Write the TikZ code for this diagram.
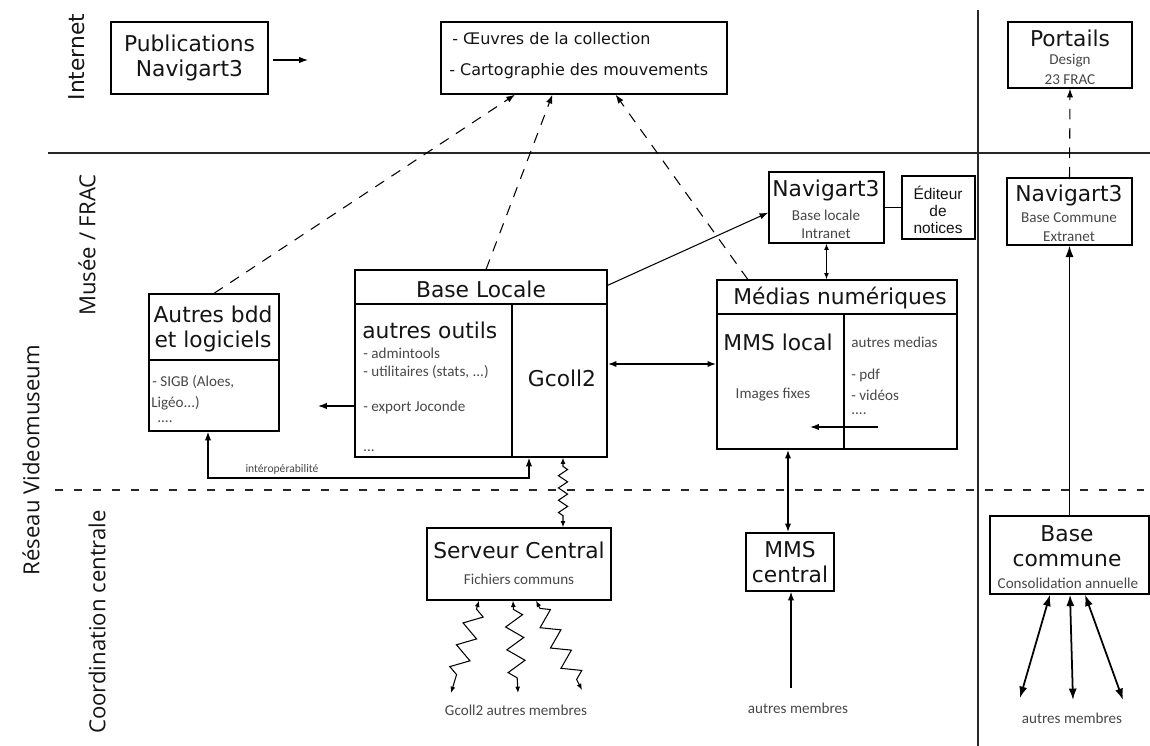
\documentclass[tikz,border=0pt]{standalone}
\usepackage{fontspec}
\setmainfont{DejaVu Sans}
\newfontfamily\smf{Carlito}
\newfontfamily\arf{Liberation Sans}
\newfontfamily\osf{Open Sans}
\usetikzlibrary{arrows.meta,fit,calc,decorations.pathmorphing}
\begin{document}
\begin{tikzpicture}[x=0.02cm,y=-0.02cm,
  box/.style={draw, line width=0.75pt, inner sep=0pt, fit={#1}},
  ttl/.style={font=\fontsize{12.4}{14.2}\selectfont, text=black!92, inner sep=0pt},
  mid/.style={font=\fontsize{9.1}{11}\selectfont, text=black!92, inner sep=0pt},
  sub/.style={font=\smf\fontsize{8.6}{10}\selectfont, text=black!72, inner sep=0pt},
  tiny/.style={font=\smf\fontsize{6.6}{8}\selectfont, text=black!72, inner sep=0pt},
  side/.style={font=\osf\fontsize{12.6}{14}\selectfont, text=black!92, rotate=90, inner sep=0pt},
  sep/.style={line width=0.85pt, draw=black!85},
  inner/.style={line width=0.75pt},
  conn/.style={line width=0.6pt},
  thick conn/.style={line width=1pt},
  tip/.style={-{Latex[length=5pt,width=3.6pt]}},
  dtip/.style={{Latex[length=5pt,width=3.6pt]}-{Latex[length=5pt,width=3.6pt]}},
  stip/.style={{Latex[length=3.6pt,width=2.8pt]}-{Latex[length=3.6pt,width=2.8pt]}},
  btip/.style={{Latex[length=6.5pt,width=4.6pt]}-{Latex[length=6.5pt,width=4.6pt]}},
  dashconn/.style={line width=0.6pt, dash pattern=on 6pt off 5pt, -{Latex[length=5pt,width=3.6pt]}},
  zzs/.style={decorate, decoration={zigzag, segment length=7pt, amplitude=2.6pt, pre length=5pt, post length=5pt}},
  zzl/.style={decorate, decoration={zigzag, segment length=13pt, amplitude=5pt, pre length=5pt, post length=5pt}}
]
\useasboundingbox (0,0) rectangle (1150,746);

% separators
\coordinate (hl0) at (48,153);
\coordinate (hl1) at (1150,153);
\draw[sep] (hl0) -- (hl1);
\coordinate (vl0) at (978,10);
\coordinate (vl1) at (978,746);
\draw[sep] (vl0) -- (vl1);
\coordinate (dl0) at (55,490);
\coordinate (dl1) at (1150,490);
\draw[sep, line width=0.75pt, dash pattern=on 4.5pt off 6.3pt] (dl0) -- (dl1);

% side labels
\node[side, font=\fontsize{12.4}{14}\selectfont] (lint) at (77,57) {Internet};
\node[side] (lmus) at (87,245) {Musée / FRAC};
\node[side] (lres) at (31,460) {Réseau Videomuseum};
\node[side] (lcoo) at (97,622) {Coordination centrale};

% Internet row
\node[box={(111,22)(268,94)}] (pub) {};
\node[ttl, align=center] (pubt) at (pub.center) {Publications\\Navigart3};
\coordinate (pubend) at (308,60);
\draw[conn, tip] ($(pub.east)+(4,2)$) -- (pubend);

\node[box={(441,22)(727,94)}] (oeuv) {};
\node[mid, anchor=west] (oeuv1) at (452,39) {- Œuvres de la collection};
\node[mid, anchor=west] (oeuv2) at (449,71) {- Cartographie des mouvements};

\node[box={(1008,22)(1132,88)}] (port) {};
\node[ttl] (portt) at (1070,38) {Portails};
\node[sub] (port1) at (1070,61) {Design};
\node[sub] (port2) at (1070,80) {23 FRAC};

% Musee row
\node[box={(1007,178)(1132,245)}] (navr) {};
\node[ttl] (navrt) at (1069,195) {Navigart3};
\node[sub] (navr1) at (1069,218) {Base Commune};
\node[sub] (navr2) at (1069,237) {Extranet};

\node[box={(769,172)(884,243)}] (navl) {};
\node[ttl] (navlt) at (826,190) {Navigart3};
\node[sub] (navl1) at (826,215) {Base locale};
\node[sub] (navl2) at (826,234) {Intranet};

\node[box={(902,176)(975,239)}] (edit) {};
\node[font=\arf\fontsize{8.8}{9.6}\selectfont, text=black!92, align=center, inner sep=0pt] (editt) at (938,210) {Éditeur\\de\\notices};

% Base locale
\node[box={(355,270)(607,457)}] (bl) {};
\coordinate (blh) at (355,304);
\draw[inner] (blh) -- (blh -| bl.east);
\coordinate (bld) at (512,304);
\draw[inner] (bld) -- (bld |- bl.south);
\node[ttl] (blt) at (481,289) {Base Locale};
\node[ttl, anchor=west] (blo) at (362,330) {autres outils};
\node[sub, anchor=west] (bl1) at (363,353) {- admintools};
\node[sub, anchor=west] (bl2) at (363,372) {- utilitaires (stats, ...)};
\node[sub, anchor=west] (bl3) at (363,407) {- export Joconde};
\node[sub, anchor=west] (bl4) at (363,451) {...};
\node[ttl] (gcoll) at (562,378) {Gcoll2};

% Autres bdd
\node[box={(149,294)(279,431)}] (bdd) {};
\coordinate (bddh) at (149,360);
\draw[inner] (bddh) -- (bddh -| bdd.east);
\node[ttl, align=center] (bddt) at (213,329) {Autres bdd\\et logiciels};
\node[sub, anchor=west] (bdd1) at (152,382) {- SIGB (Aloes,};
\node[sub, anchor=west] (bdd2) at (151,403) {Ligéo...)};
\node[sub, anchor=west] (bdd3) at (157,422) {....};

% Medias
\node[box={(717,280)(957,449)}] (med) {};
\coordinate (medh) at (717,314);
\draw[inner] (medh) -- (medh -| med.east);
\coordinate (medd) at (844,314);
\draw[inner] (medd) -- (medd |- med.south);
\node[ttl] (medt) at (840,298) {Médias numériques};
\node[ttl] (mmsl) at (778,342) {MMS local};
\node[sub] (imf) at (773,395) {Images fixes};
\node[sub, anchor=west] (am) at (851,342) {autres medias};
\node[sub, anchor=west] (am1) at (851,375) {- pdf};
\node[sub, anchor=west] (am2) at (851,395) {- vidéos};
\node[sub, anchor=west] (am3) at (851,414) {....};
\coordinate (ma0) at (878,427);
\coordinate (ma1) at (810,427);
\draw[conn, line width=0.75pt, tip] (ma0) -- (ma1);

% Coordination row
\node[box={(427,528)(611,600)}] (srv) {};
\node[ttl] (srvt) at (519,550) {Serveur Central};
\node[sub] (srv1) at (519,579) {Fichiers communs};
\node[sub] (gam) at (516,710) {Gcoll2 autres membres};

\node[box={(746,533)(834,591)}] (mmsc) {};
\node[ttl, align=center] (mmsct) at (790,562) {MMS\\central};
\node[sub] (mam) at (798,708) {autres membres};

\node[box={(990,516)(1149,594)}] (bc) {};
\node[ttl, align=center] (bct) at (1067,546) {Base\\commune};
\node[sub] (bc1) at (1068,583) {Consolidation annuelle};
\node[sub] (bam) at (1072,718) {autres membres};

% dashed connectors to Internet
\draw[dashconn] (bdd.north) -- ($(oeuv.south west)!0.26!(oeuv.south east)$);
\draw[dashconn] ($(bl.north west)!0.52!(bl.north east)$) -- ($(oeuv.south west)!0.39!(oeuv.south east)$);
\draw[dashconn] ($(med.north west)!0.13!(med.north east)$) -- ($(oeuv.south west)!0.61!(oeuv.south east)$);
\draw[dashconn] (navr.north) -- (port.south);

% solid connectors
\draw[conn, tip] ($(bl.north east)+(0,16)$) -- ($(navl.north west)!0.57!(navl.south west)$);
\draw[conn] (navl.east) -- (edit.west);
\draw[conn, stip] (navl.south) -- (navl.south |- med.north);
\coordinate (hmid) at (0,364);
\draw[thick conn, dtip] (bl.east |- hmid) -- (med.west |- hmid);
\coordinate (ejo) at (318,406);
\draw[conn, line width=0.7pt, tip] (bl.west |- ejo) -- (ejo);

% interoperabilite
\coordinate (iL) at (208,478);
\coordinate (iR) at (529,478);
\draw[conn, line width=0.75pt, dtip] (bdd.south -| iL) -- (iL) -- (iR) -- (bl.south -| iR);
\node[tiny] (interop) at (282,469) {intéropérabilité};

% zigzags
\coordinate (gz) at (563,0);
\draw[conn, stip, zzs] (bl.south -| gz) -- (srv.north -| gz);
\coordinate (z1a) at (479,0);
\coordinate (z2a) at (513,0);
\coordinate (z3a) at (536,0);
\coordinate (z1b) at (451,693);
\coordinate (z2b) at (518,693);
\coordinate (z3b) at (582,690);
\draw[conn, stip, zzl] (srv.south -| z1a) -- (z1b);
\draw[conn, stip, zzl] (srv.south -| z2a) -- (z2b);
\draw[conn, stip, zzl] (srv.south -| z3a) -- (z3b);

% MMS central
\coordinate (mx) at (788,0);
\draw[thick conn, dtip] (med.south -| mx) -- (mmsc.north -| mx);
\coordinate (mmsin) at (791,688);
\draw[conn, line width=0.75pt, tip] (mmsin) -- (mmsin |- mmsc.south);

% Base commune
\draw[conn, line width=0.8pt, -{Latex[length=6.5pt,width=4.6pt]}] (bc.north) -- (navr.south);
\coordinate (b1a) at (1050,0);
\coordinate (b2a) at (1070,0);
\coordinate (b3a) at (1085,0);
\coordinate (b1b) at (1020,698);
\coordinate (b2b) at (1073,700);
\coordinate (b3b) at (1123,700);
\draw[thick conn, btip] (bc.south -| b1a) -- (b1b);
\draw[thick conn, btip] (bc.south -| b2a) -- (b2b);
\draw[thick conn, btip] (bc.south -| b3a) -- (b3b);
\end{tikzpicture}
\end{document}
